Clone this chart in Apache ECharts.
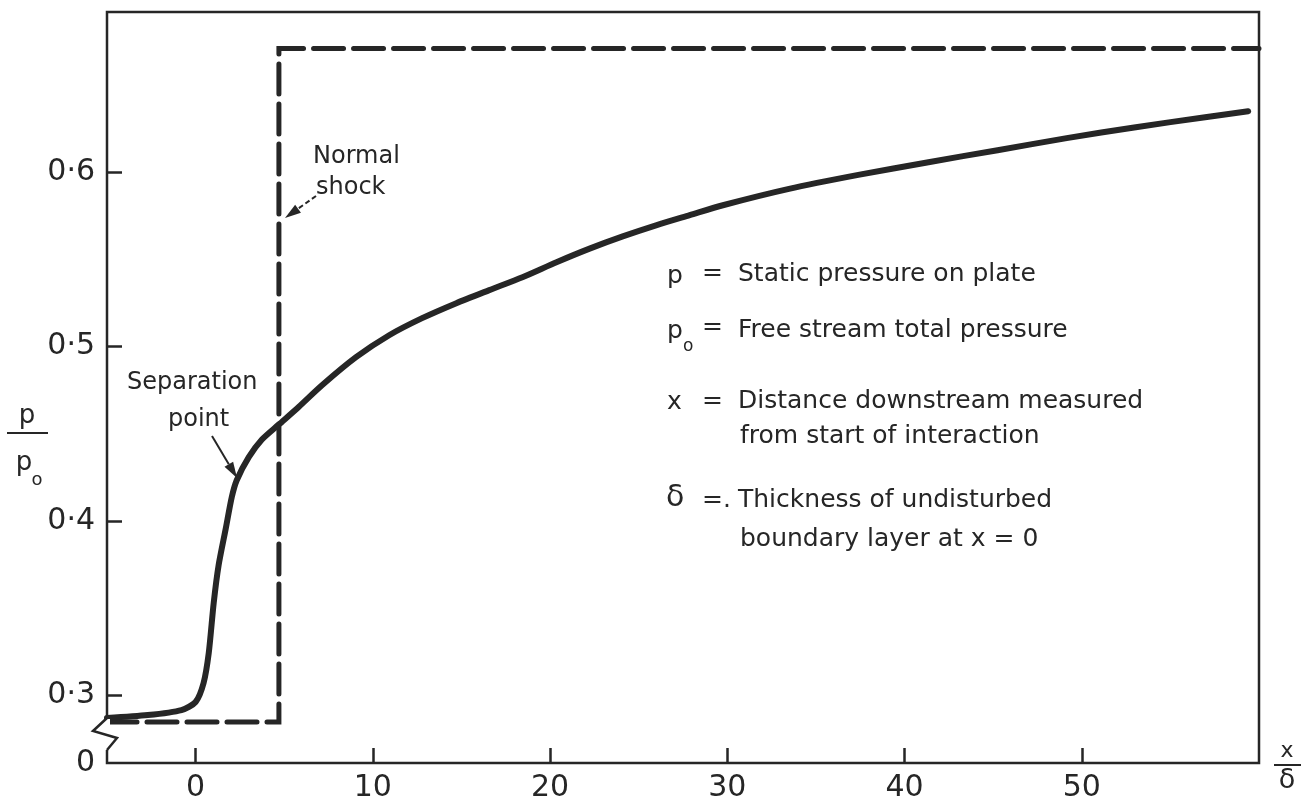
<!DOCTYPE html>
<html>
<head>
<meta charset="utf-8">
<script src="https://cdn.jsdelivr.net/npm/echarts@6/dist/echarts.min.js"></script>
<style>html,body{margin:0;padding:0;background:#fff}#c{width:1307px;height:807px}</style>
</head>
<body>
<div id="c"></div>
<script>
// ---- data ----
const curveX = [-5, -2.7, -0.8, 0, 0.45, 0.74, 1.02, 1.3, 1.7, 2.04, 2.32, 3.0, 3.73, 4.69, 5.83, 7.13, 9.05, 10.92, 12.78, 14.71, 16.57, 18.44, 20.36, 22.23, 24.1, 26.02, 27.88, 29.75, 33.48, 37.39, 41.35, 45.25, 49.15, 53.05, 56.96, 59.39];
const curveY = [0.2868, 0.2885, 0.2914, 0.296, 0.3069, 0.324, 0.3528, 0.3746, 0.3955, 0.4136, 0.4233, 0.4365, 0.4465, 0.4552, 0.4655, 0.4778, 0.4939, 0.5065, 0.5163, 0.5249, 0.5324, 0.5398, 0.5484, 0.5562, 0.5632, 0.5697, 0.5754, 0.5811, 0.5905, 0.5985, 0.6058, 0.6127, 0.6196, 0.6259, 0.6316, 0.635];
const shockX = [-5, 4.7, 4.7, 60];
const shockY = [0.2845, 0.2845, 0.671, 0.671];
const xTicks = [0, 10, 20, 30, 40, 50];
const xTickLabels = ['0', '10', '20', '30', '40', '50'];
const yTicks = [0.3, 0.4, 0.5, 0.6];
const yTickLabels = ['0·3', '0·4', '0·5', '0·6'];
const yBaseLabel = '0';
const legendLines = [
  'Static pressure on plate',
  'Free stream total pressure',
  'Distance downstream measured',
  'from start of interaction',
  'Thickness of undisturbed',
  'boundary layer at x = 0'
];

const X_MIN = -5, X_MAX = 60, Y_MIN = 0.261, Y_MAX = 0.692;
const INK = '#262626';
const FONT = '"DejaVu Sans", sans-serif';

const chart = echarts.init(document.getElementById('c'), null, {renderer: 'canvas'});

const yLabelValues = [Y_MIN].concat(yTicks);
function yFmt(v) {
  if (Math.abs(v - Y_MIN) < 1e-6) return yBaseLabel;
  const i = yTicks.findIndex(t => Math.abs(t - v) < 1e-6);
  return i >= 0 ? yTickLabels[i] : '';
}
function xFmt(v) {
  const i = xTicks.findIndex(t => Math.abs(t - v) < 1e-6);
  return i >= 0 ? xTickLabels[i] : '';
}

const option = {
  backgroundColor: '#ffffff',
  animation: false,
  grid: {left: 107, top: 12, right: 48, bottom: 44, show: true, borderColor: INK, borderWidth: 2.5, backgroundColor: 'transparent'},
  xAxis: {
    type: 'value', min: X_MIN, max: X_MAX, position: 'bottom',
    axisLine: {show: false, onZero: false}, splitLine: {show: false},
    axisTick: {show: true, inside: true, length: 15, customValues: xTicks, lineStyle: {color: INK, width: 2.5}},
    axisLabel: {customValues: xTicks, formatter: xFmt, color: INK, fontSize: 30, fontFamily: FONT, margin: 10}
  },
  yAxis: {
    type: 'value', min: Y_MIN, max: Y_MAX, position: 'left',
    axisLine: {show: false, onZero: false}, splitLine: {show: false},
    axisTick: {show: true, inside: true, length: 15, customValues: yTicks, lineStyle: {color: INK, width: 2.5}},
    axisLabel: {customValues: yLabelValues, formatter: yFmt, color: INK, fontSize: 30, fontFamily: FONT, margin: 12}
  },
  series: [
    {
      type: 'line', name: 'shock', data: shockX.map((x, i) => [x, shockY[i]]),
      symbol: 'none', smooth: false, z: 2,
      lineStyle: {color: INK, width: 5, type: [30, 10], cap: 'round', join: 'miter'}
    },
    {
      type: 'line', name: 'p/p0', data: curveX.map((x, i) => [x, curveY[i]]),
      symbol: 'none', smooth: 0.25, z: 3,
      lineStyle: {color: INK, width: 6, cap: 'round', join: 'round'}
    }
  ]
};
chart.setOption(option);

// ---- decorations (annotations, axis break, axis names) ----
function txt(text, x, y, size, align, extra) {
  return Object.assign({type: 'text', x: x, y: y, z: 10, style: {text: text, fill: INK, fontSize: size, fontFamily: FONT, align: align || 'left', verticalAlign: 'middle'}}, extra || {});
}
function arrow(x1, y1, x2, y2, dashed) {
  const ang = Math.atan2(y2 - y1, x2 - x1);
  const L = 16, W = 5;
  const bx = x2 - L * Math.cos(ang), by = y2 - L * Math.sin(ang);
  const px = -Math.sin(ang) * W, py = Math.cos(ang) * W;
  return [
    {type: 'line', z: 10, shape: {x1: x1, y1: y1, x2: bx, y2: by}, style: {stroke: INK, lineWidth: 2, lineDash: dashed ? [5, 3] : null}},
    {type: 'polygon', z: 10, shape: {points: [[x2, y2], [bx + px, by + py], [bx - px, by - py]]}, style: {fill: INK}}
  ];
}

const corner = chart.convertToPixel({gridIndex: 0}, [X_MIN, Y_MIN]);
const ax = corner[0], ay = corner[1];

const g = [];
// axis break on the left frame
g.push({type: 'rect', z: 9, shape: {x: ax - 3, y: ay - 44, width: 6, height: 31}, style: {fill: '#fff'}});
g.push({type: 'polyline', z: 10, shape: {points: [[ax, ay - 45], [ax - 14, ay - 32], [ax + 10, ay - 25], [ax, ay - 13]]}, style: {stroke: INK, lineWidth: 2.5, fill: null}});

// y axis name p / p0
g.push(txt('p', 27, 416, 26, 'center'));
g.push({type: 'line', z: 10, shape: {x1: 7, y1: 433, x2: 48, y2: 433}, style: {stroke: INK, lineWidth: 2}});
g.push(txt('p', 24, 463, 26, 'center'));
g.push(txt('o', 37, 480, 18, 'center'));
// x axis name x / δ
g.push(txt('x', 1287, 751, 22, 'center'));
g.push({type: 'line', z: 10, shape: {x1: 1274, y1: 765, x2: 1301, y2: 765}, style: {stroke: INK, lineWidth: 2}});
g.push(txt('δ', 1287, 781, 27, 'center'));

// annotations
g.push(txt('Normal', 313, 157, 24));
g.push(txt('shock', 316, 188, 24));
arrow(316, 196, 285, 218, true).forEach(e => g.push(e));
g.push(txt('Separation', 127, 383, 24));
g.push(txt('point', 168, 420, 24));
arrow(212, 436, 237, 478, false).forEach(e => g.push(e));

// key
g.push(txt('p', 667, 276, 25));
g.push(txt('=', 702, 273, 25));
g.push(txt(legendLines[0], 738, 274, 25));
g.push(txt('p', 667, 331, 25));
g.push(txt('o', 683, 347, 17));
g.push(txt('=', 702, 327, 25));
g.push(txt(legendLines[1], 738, 330, 25));
g.push(txt('x', 667, 402, 25));
g.push(txt('=', 702, 401, 25));
g.push(txt(legendLines[2], 738, 401, 25));
g.push(txt(legendLines[3], 740, 436, 25));
g.push(txt('δ', 666, 498, 30));
g.push(txt('=.', 702, 500, 25));
g.push(txt(legendLines[4], 738, 500, 25));
g.push(txt(legendLines[5], 740, 539, 25));

chart.setOption({graphic: {elements: g}});
</script>
</body>
</html>
